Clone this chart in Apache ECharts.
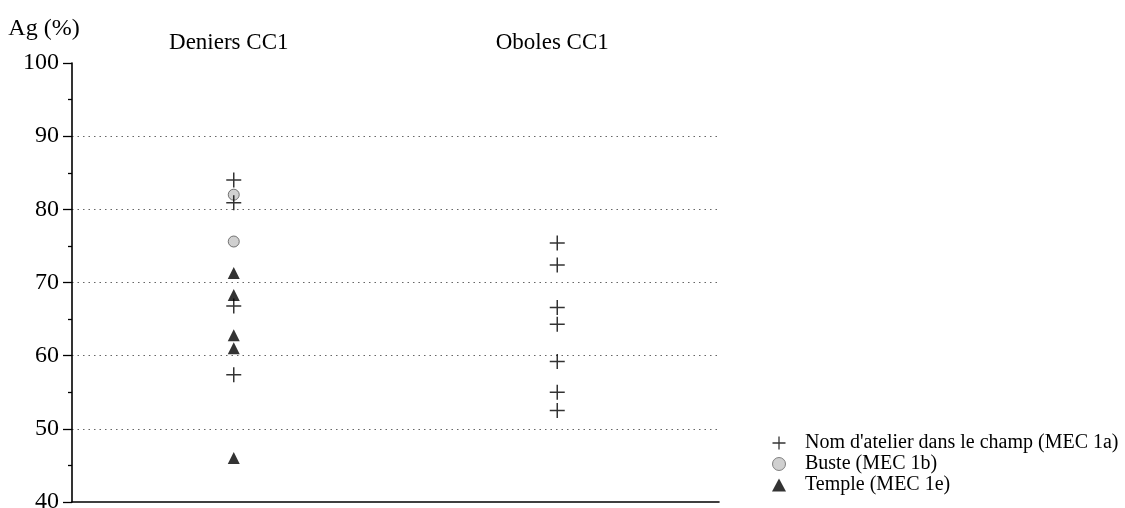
<!DOCTYPE html>
<html>
<head>
<meta charset="utf-8">
<script src="https://cdn.jsdelivr.net/npm/echarts@6/dist/echarts.min.js"></script>
<style>html,body{margin:0;padding:0;background:#fff;overflow:hidden;}#c{width:1125px;height:508px;}</style>
</head>
<body>
<div id="c"></div>
<script>
const categories = ['Deniers CC1', 'Oboles CC1'];
const seriesNames = ['Nom d\'atelier dans le champ (MEC 1a)', 'Buste (MEC 1b)', 'Temple (MEC 1e)'];
const yTicks = [40, 50, 60, 70, 80, 90, 100];
// Nom d'atelier (plus)
const deniersNom = [84.0, 80.9, 66.8, 57.4];
const obolesNom = [75.4, 72.4, 66.6, 64.3, 59.2, 55.0, 52.5];
// Buste (circle)
const deniersBuste = [82.0, 75.6];
const obolesBuste = [];
// Temple (triangle)
const deniersTemple = [71.3, 68.3, 62.8, 61.0, 46.0];
const obolesTemple = [];

function pairs(a, b) {
  return a.map(v => [categories[0], v]).concat(b.map(v => [categories[1], v]));
}
const FONT = '"Liberation Serif", "Times New Roman", serif';
const plusPath = 'path://M0,6.3H14V7.7H0Z M6.3,0H7.7V14H6.3Z';

const chart = echarts.init(document.getElementById('c'), null, {renderer: 'canvas'});
chart.setOption({
  animation: false,
  backgroundColor: '#fff',
  grid: {left: 72, right: 406, top: 63, bottom: 6, containLabel: false, outerBoundsMode: 'none'},
  xAxis: [{
    type: 'category', data: categories, position: 'bottom',
    axisLine: {show: true, lineStyle: {color: '#000', width: 1.6}},
    axisTick: {show: false}, axisLabel: {show: false}, splitLine: {show: false}
  }, {
    type: 'category', data: categories, position: 'top',
    axisLine: {show: false}, axisTick: {show: false}, splitLine: {show: false},
    axisLabel: {show: true, color: '#000', fontFamily: FONT, fontSize: 23, margin: 9, padding: [0, 10, 0, 0]}
  }],
  yAxis: {
    type: 'value', min: yTicks[0], max: yTicks[yTicks.length - 1], interval: 10,
    name: 'Ag (%)', nameLocation: 'end', nameGap: 22,
    nameTextStyle: {color: '#000', fontFamily: FONT, fontSize: 24, align: 'center', padding: [0, 56, 0, 0]},
    axisLine: {show: true, lineStyle: {color: '#000', width: 1.6}},
    axisTick: {show: true, inside: false, length: 9, lineStyle: {color: '#000', width: 1.3}},
    minorTick: {show: true, splitNumber: 2, length: 4, lineStyle: {color: '#000', width: 1.3}},
    axisLabel: {color: '#000', fontFamily: FONT, fontSize: 24, margin: 13},
    splitLine: {show: true, lineStyle: {color: ['rgba(0,0,0,0)', '#666', '#666', '#666', '#666', '#666', 'rgba(0,0,0,0)'], width: 1.2, type: [1.5, 4]}}
  },
  legend: {
    orient: 'vertical', left: 767, top: 428, itemWidth: 14, itemHeight: 13, itemGap: 1,
    textStyle: {color: '#000', fontFamily: FONT, fontSize: 20, padding: [0, 0, 0, 14]},
    data: [
      {name: seriesNames[0], icon: plusPath},
      {name: seriesNames[1], icon: 'circle', itemStyle: {color: '#c4c4c4', borderColor: '#666', borderWidth: 1}},
      {name: seriesNames[2], icon: 'triangle'}
    ]
  },
  series: [{
    name: seriesNames[0], type: 'scatter', xAxisIndex: 0, symbol: plusPath, symbolSize: 15,
    itemStyle: {color: '#000'}, data: pairs(deniersNom, obolesNom), z: 3
  }, {
    name: seriesNames[1], type: 'scatter', xAxisIndex: 0, symbol: 'circle', symbolSize: 11,
    itemStyle: {color: '#c4c4c4', borderColor: '#555', borderWidth: 1}, data: pairs(deniersBuste, obolesBuste), z: 2
  }, {
    name: seriesNames[2], type: 'scatter', xAxisIndex: 0, symbol: 'triangle', symbolSize: 12,
    itemStyle: {color: '#000'}, data: pairs(deniersTemple, obolesTemple), z: 2
  }]
});
</script>
</body>
</html>
